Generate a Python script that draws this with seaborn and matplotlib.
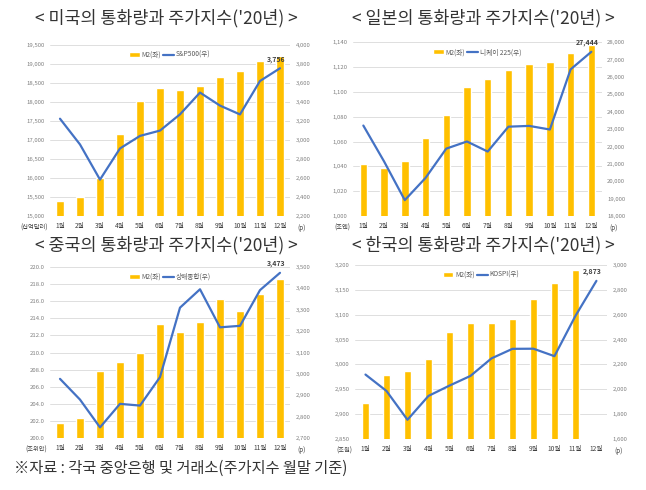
"""Money supply (M2) vs stock index for four countries, 2020"""
import matplotlib
matplotlib.use("Agg")
import matplotlib.pyplot as plt
import matplotlib.ticker as mticker
import seaborn as sns
import pandas as pd

months = ["1월", "2월", "3월", "4월", "5월", "6월", "7월", "8월", "9월", "10월", "11월", "12월"]

us_m2 = [15400, 15500, 15990, 17170, 18030, 18360, 18330, 18420, 18655, 18815, 19085, 19210]
us_index = [3225, 2954, 2584, 2912, 3044, 3100, 3271, 3500, 3363, 3270, 3622, 3756]

jp_m2 = [1041.7, 1038.8, 1044.2, 1063.0, 1081.3, 1103.9, 1110.7, 1117.4, 1122.8, 1123.9, 1131.1, 1137.3]
jp_index = [23205, 21143, 18917, 20194, 21878, 22288, 21710, 23140, 23185, 22977, 26434, 27444]

cn_m2 = [201.8, 202.4, 207.8, 208.9, 209.9, 213.3, 212.4, 213.6, 216.3, 214.9, 216.9, 218.6]
cn_index = [2977, 2880, 2750, 2860, 2852, 2985, 3310, 3396, 3218, 3225, 3392, 3473]

kr_m2 = [2922, 2978, 2986, 3011, 3066, 3083, 3083, 3092, 3132, 3163, 3190, None]
kr_index = [2119, 1987, 1755, 1947, 2030, 2108, 2249, 2326, 2327, 2267, 2591, 2873]

BAR = "#FFC000"
LINE = "#4472C4"
TICK = "#808080"

sns.set_theme(style="white")
plt.rcParams["font.family"] = ["Noto Sans CJK KR", "DejaVu Sans"]

fig = plt.figure(figsize=(6.46, 4.90), dpi=100)


def draw_panel(rect, title, title_x, title_y, m2, index, index_name, unit,
               left_lim, left_step, right_lim, right_step, left_fmt, last_label):
    ax = fig.add_axes(rect)
    df = pd.DataFrame({"month": months, "m2": m2, "idx": index, "pos": range(12)})
    sns.barplot(data=df, x="month", y="m2", color=BAR, width=0.36, ax=ax,
                label="M2(좌)", saturation=1)
    ax.set_ylim(*left_lim)
    ax.yaxis.set_major_locator(mticker.MultipleLocator(left_step))
    ax.yaxis.set_major_formatter(mticker.FuncFormatter(left_fmt))
    ax.grid(axis="y", color="#d9d9d9", linewidth=0.6)
    ax.set_axisbelow(True)
    ax.set_xlim(-0.5, 11.5)
    ax.set_xlabel("")
    ax.set_ylabel("")
    ax.tick_params(axis="y", labelsize=4.3, colors=TICK, length=0, pad=4)
    ax.tick_params(axis="x", labelsize=4.8, colors="#404040", length=0, pad=4)

    ax2 = ax.twinx()
    sns.lineplot(data=df, x="pos", y="idx", color=LINE, linewidth=1.6, ax=ax2,
                 label=index_name, legend=False)
    ax2.set_ylim(*right_lim)
    ax2.yaxis.set_major_locator(mticker.MultipleLocator(right_step))
    ax2.yaxis.set_major_formatter(mticker.StrMethodFormatter("{x:,.0f}"))
    ax2.tick_params(axis="y", labelsize=4.3, colors=TICK, length=0, pad=4)
    ax2.set_ylabel("")
    ax2.set_xlabel("")
    ax2.grid(False)
    for a in (ax, ax2):
        for s in a.spines.values():
            s.set_visible(False)

    ax2.annotate(last_label, (11, index[-1]), xytext=(-3, 4), textcoords="offset points",
                 ha="center", va="bottom", fontsize=5, fontweight="bold", color="#404040")

    h1, l1 = ax.get_legend_handles_labels()
    h2, l2 = ax2.get_legend_handles_labels()
    leg = ax.legend(h1 + h2, l1 + l2, loc="upper center", bbox_to_anchor=(0.5, 1.0),
                    ncol=2, frameon=False, fontsize=4.8, handlelength=1.6,
                    handleheight=0.7, columnspacing=0.3, handletextpad=0.3)
    for t in leg.get_texts():
        t.set_color("#595959")

    ax.text(-0.01, -0.045, unit, transform=ax.transAxes, ha="right", va="top",
            fontsize=4.5, color="#404040")
    ax.text(1.03, -0.045, "(p)", transform=ax.transAxes, ha="left", va="top",
            fontsize=4.5, color="#404040")
    fig.text(title_x, title_y, title, ha="center", va="center", fontsize=12.5, color="#333333")


comma0 = lambda v, p: f"{v:,.0f}"
one_dec = lambda v, p: f"{v:.1f}"

draw_panel([0.0774, 0.559, 0.3715, 0.349], "< 미국의 통화량과 주가지수('20년) >", 0.258, 0.962,
           us_m2, us_index, "S&P500(우)", "(십억달러)",
           (15000, 19500), 500, (2200, 4000), 200, comma0, "3,756")
draw_panel([0.5464, 0.559, 0.385, 0.355], "< 일본의 통화량과 주가지수('20년) >", 0.748, 0.962,
           jp_m2, jp_index, "니케이 225(우)", "(조엔)",
           (1000, 1140), 20, (18000, 28000), 1000, comma0, "27,444")
draw_panel([0.0774, 0.106, 0.3715, 0.349], "< 중국의 통화량과 주가지수('20년) >", 0.258, 0.5,
           cn_m2, cn_index, "상해종합(우)", "(조위안)",
           (200, 220), 2, (2700, 3500), 100, one_dec, "3,473")
draw_panel([0.5495, 0.104, 0.390, 0.355], "< 한국의 통화량과 주가지수('20년) >", 0.748, 0.5,
           kr_m2, kr_index, "KOSPI(우)", "(조원)",
           (2850, 3200), 50, (1600, 3000), 200, comma0, "2,873")

fig.text(0.022, 0.045, "※자료 : 각국 중앙은행 및 거래소(주가지수 월말 기준)", ha="left",
         va="center", fontsize=11, color="#333333")

fig.savefig("out.png", dpi=100)
plt.close()
